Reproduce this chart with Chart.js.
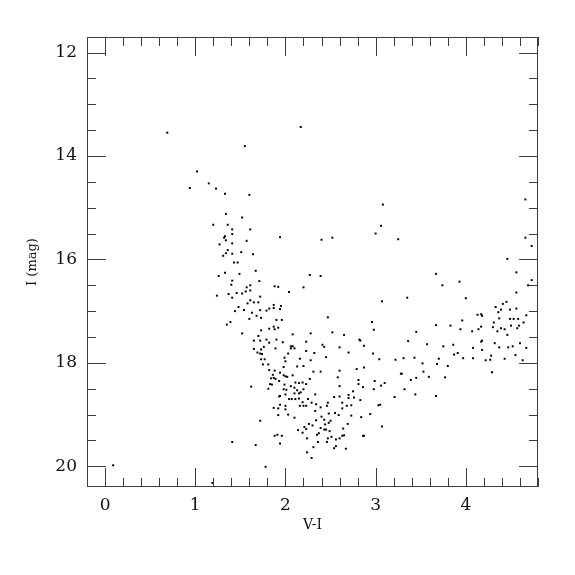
<!DOCTYPE html>
<html>
<head>
<meta charset="utf-8">
<script src="https://cdn.jsdelivr.net/npm/chart.js@4/dist/chart.umd.min.js"></script>
<style>
  html, body { margin: 0; padding: 0; background: #fff; }
  canvas { display: block; }
</style>
</head>
<body>
<canvas id="cmd" width="575" height="575"></canvas>
<script>
// colour-magnitude diagram, V-I vs I (mag)

// bright upper branch
const upperBranch = [
    [0.69,13.55],[2.17,13.44],[1.55,13.81],[1.02,14.30],[0.94,14.62],[1.15,14.53],[1.23,14.63],[1.33,14.73],[1.60,14.75],[1.34,15.12],
    [1.52,15.19],[1.20,15.33],[1.36,15.33],[1.41,15.42],[1.61,15.42],[1.41,15.51],[1.33,15.55],[1.32,15.58],[1.34,15.63],[1.57,15.64],
    [1.94,15.57],[2.40,15.62],[2.52,15.58],[1.27,15.71],[1.41,15.69],[1.36,15.82],[1.34,15.88],[1.31,15.93],[1.41,15.89],[1.51,15.86],
    [1.64,15.90],[1.43,16.06],[1.47,16.06],[1.67,16.22],[1.33,16.26],[1.26,16.32],[1.49,16.28],[2.27,16.30],[2.39,16.32]
];

// isolated faint stars
const faintOutliers = [
    [0.09,19.98],[1.19,20.32],[1.41,19.53],[1.67,19.59],[1.78,20.01]
];

// the main clump around V-I = 2
const mainClump = [
    [1.41,16.41],[1.71,16.42],[1.40,16.49],[1.61,16.50],[1.57,16.54],[1.88,16.52],[1.92,16.53],[2.20,16.54],[1.56,16.62],[1.61,16.60],
    [1.52,16.66],[1.46,16.65],[1.37,16.67],[1.24,16.70],[1.41,16.74],[1.72,16.72],[2.04,16.63],[1.61,16.79],[1.58,16.85],[1.65,16.83],
    [1.70,16.83],[1.48,16.92],[1.54,16.98],[1.44,17.00],[1.63,17.03],[1.72,16.98],[1.79,16.99],[1.82,16.95],[1.87,16.94],[1.87,16.88],
    [1.95,16.90],[1.94,16.96],[1.68,17.09],[1.60,17.15],[1.73,17.13],[1.39,17.21],[1.35,17.26],[1.90,17.17],[1.96,17.17],[2.47,17.12],
    [1.82,17.34],[1.87,17.30],[1.88,17.35],[1.92,17.32],[1.73,17.37],[1.52,17.43],[1.70,17.48],[2.08,17.45],[2.28,17.43],[2.52,17.41],
    [1.65,17.57],[1.72,17.57],[1.79,17.55],[1.82,17.61],[1.90,17.55],[1.97,17.60],[2.23,17.59],[1.76,17.69],[1.73,17.74],[1.65,17.73],
    [1.89,17.72],[2.06,17.68],[2.08,17.68],[2.06,17.72],[2.10,17.72],[2.41,17.65],[2.43,17.69],[2.23,17.77],[1.69,17.80],[1.72,17.82],
    [1.74,17.83],[2.03,17.82],[2.32,17.81],[2.60,17.70],[1.99,17.90],[2.16,17.92],[2.45,17.89],[1.73,17.93],[1.77,17.93],[2.00,17.97],
    [2.28,17.95],[1.75,18.03],[1.81,18.03],[1.98,18.08],[2.13,18.07],[2.20,18.06],[1.82,18.14],[1.88,18.15],[1.94,18.19],[2.31,18.17],
    [2.39,18.17],[2.60,18.15],[1.86,18.23],[1.98,18.24],[2.08,18.24],[2.58,18.28],[1.84,18.30],[1.87,18.29],[1.89,18.31],[1.93,18.35],
    [2.00,18.26],[2.02,18.27],[2.27,18.31],[1.83,18.41],[1.85,18.42],[1.99,18.42],[2.06,18.45],[2.11,18.38],[2.15,18.39],[2.19,18.38],
    [2.23,18.41],[2.10,18.48],[2.13,18.53],[2.20,18.51],[1.62,18.46],[1.81,18.50],[1.98,18.51],[2.01,18.52],[2.60,18.45],[2.10,18.59],
    [2.15,18.59],[2.17,18.57],[1.94,18.64],[1.93,18.65],[2.00,18.61],[2.33,18.61],[2.60,18.65],[2.04,18.70],[2.07,18.70],[2.11,18.70],
    [2.15,18.69],[2.19,18.76],[2.25,18.70],[2.54,18.66],[1.94,18.81],[2.00,18.83],[2.16,18.83],[2.20,18.83],[2.23,18.83],[2.29,18.77],
    [2.34,18.80],[2.39,18.86],[2.46,18.83],[2.47,18.77],[1.87,18.87],[1.92,18.88],[2.00,18.90],[2.33,18.93],[2.48,18.98],[2.55,18.97],
    [2.59,19.01],[1.92,19.01],[2.03,19.00],[2.10,19.06],[2.40,19.04],[2.43,19.10],[2.34,19.11],[2.44,19.19],[2.48,19.16],[2.50,19.12],
    [1.72,19.12],[2.26,19.18],[2.30,19.21],[2.21,19.24],[2.23,19.28],[2.39,19.26],[2.43,19.29],[2.45,19.29],[2.49,19.32],[2.14,19.30],
    [2.19,19.35],[2.37,19.36],[2.35,19.39],[1.88,19.41],[1.91,19.39],[1.96,19.41],[2.24,19.46],[2.51,19.43],[2.47,19.46],[2.56,19.48],
    [2.60,19.46]
];

// bottom edge of the clump
const clumpBottom = [
    [1.94,19.56],[2.36,19.53],[2.31,19.63],[2.24,19.73],[2.29,19.84],[2.46,19.53],[2.56,19.61],[2.54,19.65]
];

// red stars, upper part
const redUpper = [
    [3.08,14.94],[3.06,15.35],[3.00,15.50],[3.25,15.61],[4.66,14.84],[4.66,15.58],[4.73,15.74],[4.46,15.99],[4.56,16.25],[4.73,16.40],
    [4.69,16.50],[3.67,16.28],[3.74,16.50],[3.93,16.43],[4.00,16.75],[3.07,16.81],[3.35,16.74],[4.56,16.64],[4.33,16.92],[4.41,16.86],
    [4.45,16.82],[4.36,17.02],[4.39,16.97],[4.49,16.97],[4.56,16.95],[4.37,17.14],[4.31,17.22],[4.49,17.15],[4.53,17.15],[4.58,17.15],
    [4.67,17.08],[4.64,17.22],[4.13,17.07],[4.17,17.06],[4.18,17.09],[3.96,17.18],[3.67,17.27],[3.83,17.28],[3.94,17.35],[4.07,17.39],
    [4.14,17.35],[4.17,17.30],[4.30,17.31],[4.35,17.39],[4.39,17.33],[4.43,17.35],[4.46,17.46],[4.50,17.28],[4.57,17.33],[4.59,17.28],
    [2.96,17.21],[2.98,17.36],[3.45,17.40],[2.65,17.46],[2.82,17.55]
];

// red stars, lower part
const redLower = [
    [2.63,18.77],[2.63,18.88],
    [2.70,17.80],[2.83,17.57],[2.87,17.67],[2.97,17.82],[3.04,17.93],[3.22,17.94],[3.31,17.91],[3.36,17.58],[3.43,17.90],[3.52,18.01],
    [3.57,17.64],[3.68,18.02],[3.70,17.92],[3.75,17.68],[3.80,18.06],[3.86,17.65],[3.87,17.84],[3.91,17.81],[3.97,17.91],[4.08,17.71],
    [4.08,17.91],[4.17,17.59],[4.18,17.57],[4.18,17.75],[4.22,17.95],[4.27,17.94],[4.28,17.86],[4.29,18.18],[4.32,17.62],[4.37,17.70],
    [4.43,17.92],[4.47,17.70],[4.52,17.68],[4.55,17.85],[4.60,17.62],[4.63,17.95],[4.67,17.71],
    [2.70,18.62],[2.70,18.68],[2.75,18.55],[2.76,18.67],[2.73,18.82],[2.68,18.83],[2.73,19.02],[2.79,18.12],[2.81,18.33],[2.81,18.41],
    [2.87,18.09],[2.86,18.47],[2.83,18.72],[2.99,18.35],[2.98,18.51],[3.06,18.44],[3.10,18.39],[3.03,18.82],[3.05,18.81],[2.94,18.99],
    [2.84,19.05],[3.21,18.66],[3.28,18.21],[3.29,18.21],[3.32,18.51],[3.39,18.33],[3.45,18.29],[3.44,18.61],[3.53,18.17],[3.59,18.27],
    [3.67,18.64],[3.77,18.28],[2.64,19.27],[2.69,19.18],[2.63,19.41],[2.65,19.40],[2.86,19.41],[2.87,19.41],[3.07,19.23],[2.67,19.66]
];

// axes
const xRange = [-0.2, 4.8];
const yRange = [11.7, 20.4];
const xMajorTicks = [0, 1, 2, 3, 4];
const yMajorTicks = [12, 14, 16, 18, 20];
const xMinorStep = 0.2;
const yMinorStep = 0.5;

const allStars = [].concat(upperBranch, faintOutliers, mainClump, clumpBottom, redUpper, redLower)
    .map(p => ({ x: p[0], y: p[1] }));

const FRAME = '#3c3c3c';
const serif = '"DejaVu Serif", "Liberation Serif", serif';

// box round the plot with inward ticks on all four sides
const frameTicks = {
    id: 'frameTicks',
    afterDatasetsDraw(chart) {
        const { ctx, chartArea: a, scales: { x, y } } = chart;
        ctx.save();
        ctx.strokeStyle = FRAME;
        ctx.lineWidth = 1;
        ctx.beginPath();
        ctx.rect(Math.round(a.left) + 0.5, Math.round(a.top) + 0.5,
                 Math.round(a.right - a.left) - 1, Math.round(a.bottom - a.top) - 1);

        const eps = 1e-6;
        for (let v = Math.ceil(xRange[0] / xMinorStep) * xMinorStep; v <= xRange[1] + eps; v += xMinorStep) {
            const major = xMajorTicks.some(t => Math.abs(t - v) < eps);
            const len = major ? 19 : 9;
            const px = Math.round(x.getPixelForValue(v)) + 0.5;
            ctx.moveTo(px, a.top); ctx.lineTo(px, a.top + len);
            ctx.moveTo(px, a.bottom); ctx.lineTo(px, a.bottom - len);
        }
        for (let v = Math.ceil(yRange[0] / yMinorStep) * yMinorStep; v <= yRange[1] + eps; v += yMinorStep) {
            const major = yMajorTicks.some(t => Math.abs(t - v) < eps);
            const len = major ? 19 : 9;
            const py = Math.round(y.getPixelForValue(v)) + 0.5;
            ctx.moveTo(a.left, py); ctx.lineTo(a.left + len, py);
            ctx.moveTo(a.right, py); ctx.lineTo(a.right - len, py);
        }
        ctx.stroke();
        ctx.restore();
    }
};

new Chart(document.getElementById('cmd'), {
    type: 'scatter',
    data: {
        datasets: [{
            data: allStars,
            pointStyle: 'rect',
            pointRadius: 1.4,
            pointBorderWidth: 0,
            backgroundColor: '#000',
            borderColor: '#000'
        }]
    },
    options: {
        responsive: false,
        animation: false,
        layout: { padding: { left: 0, right: 37, top: 37, bottom: 0 } },
        plugins: { legend: { display: false }, tooltip: { enabled: false } },
        scales: {
            x: {
                type: 'linear',
                min: xRange[0],
                max: xRange[1],
                afterBuildTicks: s => { s.ticks = xMajorTicks.map(v => ({ value: v })); },
                afterFit: s => { s.height = 88; },
                grid: { display: false, drawTicks: false },
                border: { display: false },
                ticks: { color: '#111', padding: 8, font: { family: serif, size: 17 }, maxRotation: 0 },
                title: { display: true, text: 'V-I', color: '#111', font: { family: serif, size: 14 }, padding: { top: 0, bottom: 41 } }
            },
            y: {
                type: 'linear',
                reverse: true,
                min: yRange[0],
                max: yRange[1],
                afterBuildTicks: s => { s.ticks = yMajorTicks.map(v => ({ value: v })); },
                afterFit: s => { s.width = 87; },
                grid: { display: false, drawTicks: false },
                border: { display: false },
                ticks: { color: '#111', padding: 10, font: { family: serif, size: 17 } },
                title: { display: true, text: 'I (mag)', color: '#111', font: { family: serif, size: 13 }, padding: { top: 25, bottom: 0 } }
            }
        }
    },
    plugins: [frameTicks]
});
</script>
</body>
</html>
